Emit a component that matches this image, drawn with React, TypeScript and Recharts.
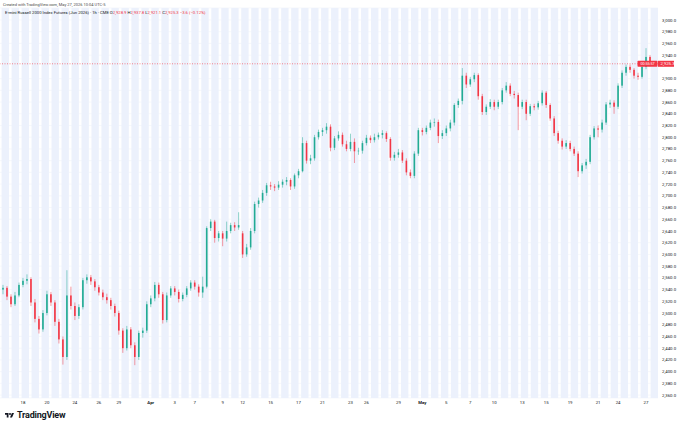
import { ComposedChart, Bar, XAxis, YAxis, CartesianGrid, ReferenceArea, ReferenceLine } from 'recharts';

const opens = [
  2540, 2543, 2528, 2515, 2530, 2548, 2555, 2558, 2518, 2490,
  2472, 2500, 2532, 2518, 2485, 2455, 2425, 2530, 2512, 2495,
  2510, 2556, 2561, 2554, 2544, 2535, 2527, 2522, 2512, 2500,
  2470, 2440, 2472, 2445, 2425, 2466, 2470, 2515, 2525, 2548,
  2532, 2488, 2530, 2542, 2536, 2524, 2531, 2542, 2552, 2545,
  2535, 2545, 2645, 2656, 2628, 2636, 2627, 2640, 2650, 2646,
  2636, 2600, 2612, 2640, 2686, 2692, 2705, 2718, 2716, 2714,
  2719, 2724, 2727, 2716, 2735, 2742, 2790, 2760, 2764, 2800,
  2809, 2812, 2818, 2782, 2798, 2804, 2788, 2780, 2792, 2776,
  2777, 2790, 2799, 2795, 2800, 2804, 2807, 2797, 2765, 2770,
  2774, 2760, 2740, 2734, 2772, 2812, 2809, 2816, 2825, 2826,
  2802, 2807, 2815, 2825, 2855, 2862, 2905, 2890, 2899, 2906,
  2870, 2843, 2852, 2860, 2852, 2860, 2880, 2888, 2874, 2872,
  2852, 2860, 2840, 2853, 2851, 2858, 2876, 2855, 2832, 2807,
  2794, 2784, 2790, 2780, 2772, 2742, 2752, 2758, 2800, 2815,
  2813, 2825, 2856, 2859, 2852, 2888, 2910, 2920, 2915, 2905,
  2903, 2920, 2937,
];

const highs = [
  2548, 2546, 2532, 2536, 2552, 2560, 2566, 2561, 2524, 2495,
  2505, 2538, 2536, 2522, 2490, 2460, 2573, 2545, 2518, 2515,
  2560, 2566, 2565, 2558, 2548, 2540, 2533, 2526, 2516, 2504,
  2474, 2478, 2476, 2450, 2470, 2475, 2520, 2530, 2553, 2552,
  2536, 2535, 2546, 2546, 2540, 2535, 2546, 2556, 2556, 2549,
  2562, 2648, 2660, 2659, 2640, 2640, 2656, 2654, 2655, 2672,
  2640, 2618, 2645, 2690, 2697, 2710, 2722, 2724, 2720, 2725,
  2728, 2732, 2730, 2738, 2746, 2800, 2794, 2770, 2804, 2813,
  2816, 2824, 2822, 2802, 2810, 2808, 2794, 2806, 2798, 2782,
  2794, 2804, 2803, 2806, 2808, 2812, 2810, 2800, 2775, 2780,
  2778, 2764, 2745, 2776, 2816, 2816, 2820, 2830, 2832, 2830,
  2812, 2820, 2830, 2858, 2866, 2918, 2910, 2903, 2910, 2909,
  2874, 2856, 2865, 2864, 2864, 2884, 2894, 2892, 2879, 2876,
  2864, 2864, 2857, 2857, 2862, 2880, 2879, 2858, 2836, 2811,
  2798, 2795, 2794, 2784, 2776, 2756, 2763, 2804, 2819, 2820,
  2830, 2860, 2864, 2863, 2892, 2914, 2924, 2924, 2918, 2910,
  2924, 2952, 2940,
];

const lows = [
  2532, 2522, 2510, 2512, 2527, 2544, 2549, 2512, 2484, 2465,
  2468, 2496, 2512, 2478, 2448, 2412, 2420, 2506, 2488, 2490,
  2506, 2550, 2548, 2538, 2530, 2522, 2516, 2506, 2494, 2463,
  2432, 2436, 2440, 2411, 2420, 2458, 2466, 2510, 2520, 2526,
  2482, 2484, 2526, 2530, 2518, 2520, 2527, 2538, 2540, 2528,
  2526, 2542, 2640, 2620, 2622, 2614, 2622, 2636, 2640, 2642,
  2594, 2596, 2608, 2636, 2680, 2688, 2700, 2710, 2708, 2710,
  2714, 2718, 2710, 2712, 2730, 2740, 2755, 2754, 2760, 2796,
  2802, 2806, 2776, 2778, 2794, 2784, 2776, 2776, 2756, 2770,
  2772, 2786, 2790, 2791, 2796, 2798, 2792, 2760, 2760, 2765,
  2756, 2735, 2730, 2730, 2768, 2803, 2805, 2812, 2818, 2790,
  2797, 2802, 2810, 2820, 2850, 2856, 2884, 2886, 2894, 2864,
  2838, 2838, 2848, 2846, 2848, 2856, 2876, 2870, 2866, 2812,
  2848, 2829, 2836, 2846, 2847, 2854, 2850, 2828, 2802, 2789,
  2779, 2780, 2776, 2768, 2732, 2738, 2746, 2754, 2796, 2800,
  2808, 2821, 2850, 2840, 2848, 2884, 2905, 2910, 2900, 2898,
  2900, 2916, 2921,
];

const closes = [
  2543, 2528, 2515, 2530, 2548, 2555, 2558, 2518, 2490, 2472,
  2500, 2532, 2518, 2485, 2455, 2425, 2530, 2512, 2495, 2510,
  2556, 2561, 2554, 2544, 2535, 2527, 2522, 2512, 2500, 2470,
  2440, 2472, 2445, 2425, 2466, 2470, 2515, 2525, 2548, 2532,
  2488, 2530, 2542, 2536, 2524, 2531, 2542, 2552, 2545, 2535,
  2545, 2645, 2656, 2628, 2636, 2627, 2640, 2650, 2646, 2650,
  2600, 2612, 2640, 2686, 2692, 2705, 2718, 2716, 2714, 2719,
  2724, 2727, 2716, 2735, 2742, 2790, 2760, 2764, 2800, 2809,
  2812, 2818, 2782, 2798, 2804, 2788, 2780, 2792, 2776, 2777,
  2790, 2799, 2795, 2800, 2804, 2807, 2797, 2765, 2770, 2774,
  2760, 2740, 2734, 2772, 2812, 2809, 2816, 2825, 2826, 2802,
  2807, 2815, 2825, 2855, 2862, 2905, 2890, 2899, 2906, 2870,
  2843, 2852, 2860, 2852, 2860, 2880, 2888, 2874, 2872, 2852,
  2860, 2840, 2853, 2851, 2858, 2876, 2855, 2832, 2807, 2794,
  2784, 2790, 2780, 2772, 2742, 2752, 2758, 2800, 2815, 2813,
  2825, 2856, 2859, 2852, 2888, 2910, 2920, 2915, 2905, 2903,
  2920, 2937, 2925.3,
];

// bar index where each date label sits
const dateTickIndex = [5, 11, 18, 24, 29, 37, 43, 48, 55, 60, 67, 74, 80, 87, 91, 99, 105, 111, 117, 123, 130, 136, 142, 149, 154, 161];
const dateTickLabels = ['18', '20', '24', '26', '29', 'Apr', '3', '7', '9', '12', '15', '17', '21', '23', '26', '29', 'May', '5', '7', '10', '13', '15', '19', '21', '24', '27'];

// 2,920.0 sits under the last-price tag, so it is not shown
const priceTicks = [
  2360, 2380, 2400, 2420, 2440, 2460, 2480, 2500, 2520, 2540, 2560,
  2580, 2600, 2620, 2640, 2660, 2680, 2700, 2720, 2740, 2760, 2780,
  2800, 2820, 2840, 2860, 2880, 2900, 2940, 2960, 2980, 3000,
];

const lastPrice = 2925.3;
const countdown = '00:55:57';

const UP = '#22ab94';
const DOWN = '#f23645';
const STRIPE = '#ecf1fc';

const data = closes.map((c, i) => ({
  i,
  open: opens[i],
  high: highs[i],
  low: lows[i],
  close: c,
  range: [lows[i], highs[i]],
}));

const X_MIN = -0.75;
const X_MAX = 164;

// background session stripes
const stripes = Array.from({ length: 66 }, (_, k) => {
  const x1 = X_MIN + 0.4 + k * 2.5;
  return [x1, Math.min(x1 + 1.85, X_MAX)];
}).filter(([a]) => a < X_MAX);

const fmtPrice = (v: number) =>
  v.toLocaleString('en-US', { minimumFractionDigits: 1, maximumFractionDigits: 1 });

const Candle = (props: any) => {
  const { x, y, width, height, payload } = props;
  if (!payload) return null;
  const { open, close, high, low } = payload;
  const color = close >= open ? UP : DOWN;
  const h = Math.abs(height);
  const top = height < 0 ? y + height : y;
  const k = high === low ? 0 : h / (high - low);
  const cx = x + width / 2;
  const bodyTop = top + (high - Math.max(open, close)) * k;
  const bodyH = Math.max(0.6, Math.abs(open - close) * k);
  return (
    <g>
      <line x1={cx} x2={cx} y1={top} y2={top + h} stroke={color} strokeWidth={0.5} />
      <rect x={cx - 0.8} y={bodyTop} width={1.6} height={bodyH} fill={color} />
    </g>
  );
};

const DateTick = (props: any) => {
  const { x, y, payload } = props;
  const label = dateTickLabels[dateTickIndex.indexOf(payload.value)] ?? '';
  const month = label === 'Apr' || label === 'May';
  return (
    <text x={x} y={y + 4} textAnchor="middle" fontSize={4.3} fill="#131722" fontWeight={month ? 700 : 400}>
      {label}
    </text>
  );
};

const PriceTag = (props: any) => {
  const vb = props.viewBox;
  if (!vb) return null;
  const y = vb.y;
  const right = vb.x + vb.width;
  return (
    <g>
      <rect x={right - 20.5} y={y - 3} width={20} height={6} rx={0.8} fill={DOWN} />
      <text x={right - 10.5} y={y + 1.5} fontSize={3.7} fill="#fff" textAnchor="middle">{countdown}</text>
      <rect x={right} y={y - 3} width={16} height={6} fill={DOWN} />
      <text x={right + 2.5} y={y + 1.5} fontSize={4.3} fill="#fff">{fmtPrice(lastPrice)}</text>
    </g>
  );
};

export default function App() {
  return (
    <div
      style={{
        position: 'absolute',
        left: 0,
        top: 0,
        width: 680,
        height: 427,
        background: '#fff',
        fontFamily: 'Roboto, "Noto Sans", sans-serif',
        overflow: 'hidden',
      }}
    >
      <ComposedChart
        width={680}
        height={410}
        data={data}
        margin={{ top: 8, right: 0, bottom: 0, left: 0 }}
      >
        <CartesianGrid vertical={false} stroke="#f0f3fa" strokeWidth={0.6} />
        {stripes.map(([a, b], k) => (
          <ReferenceArea
            key={`s-${k}`}
            x1={a}
            x2={b}
            fill={STRIPE}
            fillOpacity={1}
            stroke="none"
            ifOverflow="hidden"
            zIndex={-50}
          />
        ))}
        <XAxis
          type="number"
          dataKey="i"
          domain={[X_MIN, X_MAX]}
          allowDataOverflow
          ticks={dateTickIndex}
          interval={0}
          tick={<DateTick />}
          tickSize={0}
          tickLine={false}
          axisLine={false}
          height={12}
        />
        <YAxis
          orientation="right"
          type="number"
          domain={[2355, 3020.5]}
          allowDataOverflow
          ticks={priceTicks}
          interval={0}
          tickFormatter={fmtPrice}
          tick={{ fontSize: 4.3, fill: '#131722' }}
          tickSize={0}
          tickMargin={4}
          tickLine={false}
          axisLine={false}
          width={22}
        />
        <ReferenceLine
          y={lastPrice}
          stroke={DOWN}
          strokeWidth={0.6}
          strokeDasharray="1 1.5"
          label={<PriceTag />}
        />
        <Bar dataKey="range" barSize={2} shape={(p: any) => <Candle {...p} />} isAnimationActive={false} />
      </ComposedChart>

      <div style={{ position: 'absolute', left: 3, top: 2, fontSize: 4, color: '#4a4a4a', whiteSpace: 'nowrap' }}>
        Created with TradingView.com, May 27, 2026 10:04 UTC-5
      </div>
      <div style={{ position: 'absolute', left: 5, top: 10, fontSize: 4.2, color: '#131722', whiteSpace: 'nowrap' }}>
        E-mini Russell 2000 Index Futures (Jun 2026) · 1h · CME{' '}
        <span>O</span><span style={{ color: DOWN }}>2,928.9</span>{' '}
        <span>H</span><span style={{ color: DOWN }}>2,937.8</span>{' '}
        <span>L</span><span style={{ color: DOWN }}>2,921.1</span>{' '}
        <span>C</span><span style={{ color: DOWN }}>2,925.3</span>{' '}
        <span style={{ color: DOWN }}>−3.6 (−0.12%)</span>
      </div>
      <div style={{ position: 'absolute', left: 4, top: 410, display: 'flex', alignItems: 'center', gap: 2 }}>
        <svg width={11} height={7} viewBox="0 0 36 28">
          <path d="M14 22H7V11H0V4h14v18z" fill="#131722" />
          <circle cx={20} cy={8} r={4} fill="#131722" />
          <path d="M28 22h-8l7.5-18H36z" fill="#131722" />
        </svg>
        <span style={{ fontSize: 9, fontWeight: 700, color: '#131722', letterSpacing: -0.2 }}>TradingView</span>
      </div>
    </div>
  );
}
